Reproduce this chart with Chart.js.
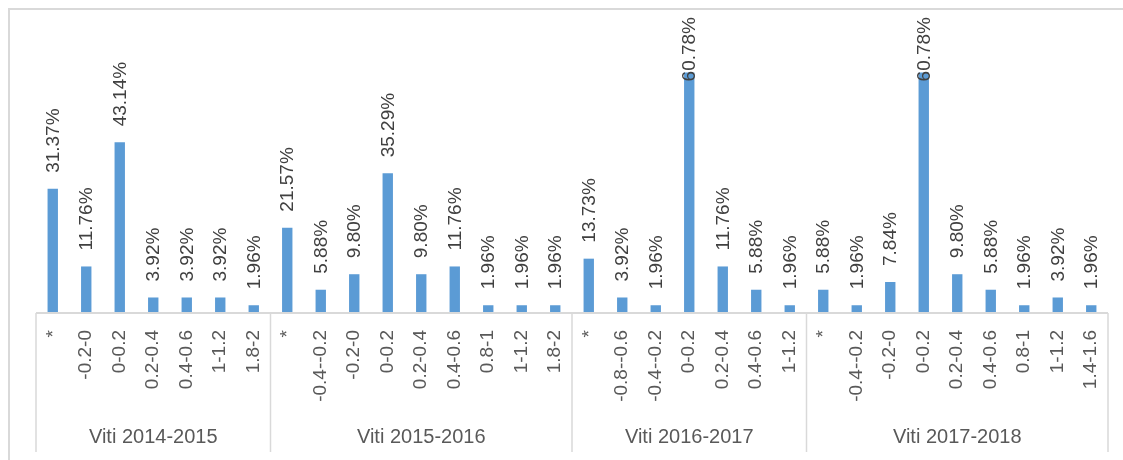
<!DOCTYPE html>
<html>
<head>
<meta charset="utf-8">
<script src="https://cdn.jsdelivr.net/npm/chart.js@4/dist/chart.umd.min.js"></script>
<style>
  html,body{margin:0;padding:0;background:#fff;}
  #wrap{position:relative;width:1123px;height:460px;}
</style>
</head>
<body>
<div id="wrap"><canvas id="c"></canvas></div>
<script>
const groups = ["Viti 2014-2015", "Viti 2015-2016", "Viti 2016-2017", "Viti 2017-2018"];
const cats2014 = ["*", "-0.2-0", "0-0.2", "0.2-0.4", "0.4-0.6", "1-1.2", "1.8-2"];
const vals2014 = [31.37, 11.76, 43.14, 3.92, 3.92, 3.92, 1.96];
const cats2015 = ["*", "-0.4--0.2", "-0.2-0", "0-0.2", "0.2-0.4", "0.4-0.6", "0.8-1", "1-1.2", "1.8-2"];
const vals2015 = [21.57, 5.88, 9.80, 35.29, 9.80, 11.76, 1.96, 1.96, 1.96];
const cats2016 = ["*", "-0.8--0.6", "-0.4--0.2", "0-0.2", "0.2-0.4", "0.4-0.6", "1-1.2"];
const vals2016 = [13.73, 3.92, 1.96, 60.78, 11.76, 5.88, 1.96];
const cats2017 = ["*", "-0.4--0.2", "-0.2-0", "0-0.2", "0.2-0.4", "0.4-0.6", "0.8-1", "1-1.2", "1.4-1.6"];
const vals2017 = [5.88, 1.96, 7.84, 60.78, 9.80, 5.88, 1.96, 3.92, 1.96];

const catGroups = [cats2014, cats2015, cats2016, cats2017];
const valGroups = [vals2014, vals2015, vals2016, vals2017];

const labels = [], values = [], groupOf = [];
catGroups.forEach((cs, gi) => cs.forEach((c, i) => {
  labels.push(gi + "|" + i + "|" + c);
  values.push(valGroups[gi][i]);
  groupOf.push(gi);
}));

const gridColor = "#d9d9d9";

const decor = {
  id: "decor",
  afterDraw(chart) {
    const ctx = chart.ctx;
    const xs = chart.scales.x, ys = chart.scales.y;
    const base = ys.getPixelForValue(0);
    const step = xs.getPixelForValue(1) - xs.getPixelForValue(0);
    ctx.save();
    // outer border
    ctx.strokeStyle = gridColor;
    ctx.lineWidth = 2;
    ctx.beginPath();
    ctx.moveTo(9, 460); ctx.lineTo(9, 9); ctx.lineTo(1123, 9);
    ctx.stroke();
    // axis line
    ctx.beginPath();
    ctx.moveTo(xs.left, base); ctx.lineTo(xs.right, base);
    ctx.stroke();
    // group separators
    let idx = 0;
    const bounds = [xs.getPixelForValue(0) - step / 2];
    catGroups.forEach(cs => { idx += cs.length; bounds.push(xs.getPixelForValue(idx - 1) + step / 2); });
    ctx.lineWidth = 1.5;
    bounds.forEach(b => {
      ctx.beginPath(); ctx.moveTo(b, base); ctx.lineTo(b, 452); ctx.stroke();
    });
    // value labels
    const meta = chart.getDatasetMeta(0);
    ctx.fillStyle = "#404040";
    ctx.font = "19px 'Liberation Sans', Arial, sans-serif";
    ctx.textBaseline = "middle";
    ctx.textAlign = "left";
    meta.data.forEach((bar, i) => {
      const txt = values[i].toFixed(2) + "%";
      const w = ctx.measureText(txt).width;
      const start = Math.max(bar.y - 16, 17 + w);
      ctx.save();
      ctx.translate(bar.x + 1, start);
      ctx.rotate(-Math.PI / 2);
      ctx.fillText(txt, 0, 0);
      ctx.restore();
    });
    // category labels
    ctx.fillStyle = "#595959";
    ctx.font = "19px 'Liberation Sans', Arial, sans-serif";
    ctx.textAlign = "right";
    labels.forEach((l, i) => {
      const txt = l.split("|").slice(2).join("|");
      const x = xs.getPixelForValue(i);
      ctx.save();
      ctx.translate(x, 330);
      ctx.rotate(-Math.PI / 2);
      if (txt === "*") ctx.fillText(txt, 0, 1);
      else ctx.fillText(txt, 0, 0);
      ctx.restore();
    });
    // group labels
    ctx.font = "20px 'Liberation Sans', Arial, sans-serif";
    ctx.textAlign = "center";
    groups.forEach((g, gi) => {
      ctx.fillText(g, (bounds[gi] + bounds[gi + 1]) / 2, 437);
    });
    ctx.restore();
  }
};

new Chart(document.getElementById("c"), {
  type: "bar",
  data: {
    labels: labels,
    datasets: [{
      data: values,
      backgroundColor: "#5b9bd5",
      borderWidth: 0,
      barPercentage: 0.31,
      categoryPercentage: 1.0
    }]
  },
  options: {
    responsive: true,
    maintainAspectRatio: false,
    animation: false,
    layout: { padding: { left: 36, right: 15, top: 36, bottom: 147 } },
    plugins: { legend: { display: false }, tooltip: { enabled: false } },
    scales: {
      x: { display: false },
      y: { display: false, min: 0, max: 70 }
    }
  },
  plugins: [decor]
});
</script>
</body>
</html>
